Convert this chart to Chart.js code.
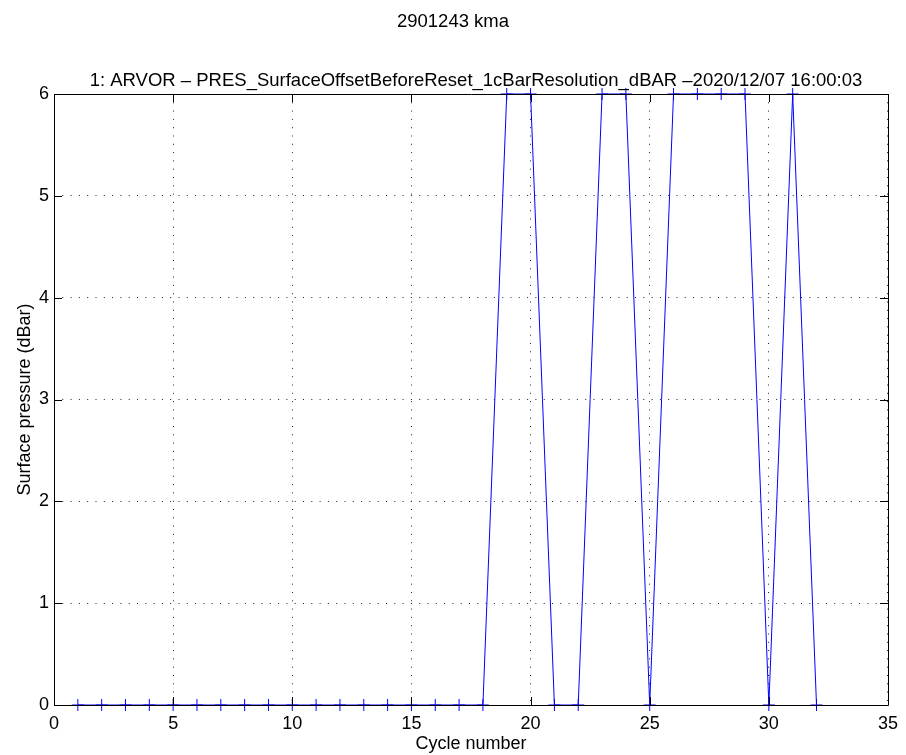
<!DOCTYPE html>
<html><head><meta charset="utf-8">
<script src="https://cdn.jsdelivr.net/npm/chart.js@4"></script>
<style>html,body{margin:0;padding:0;background:#fff;}#wrap{width:906px;height:755px;}</style>
</head><body><div id="wrap"><canvas id="c" width="906" height="755"></canvas></div>
<script>
const cycles = [1,2,3,4,5,6,7,8,9,10,11,12,13,14,15,16,17,18,19,20,21,22,23,24,25,26,27,28,29,30,31,32];
const pressure = [0,0,0,0,0,0,0,0,0,0,0,0,0,0,0,0,0,0,6,6,0,0,6,6,0,6,6,6,6,0,6,0];
const xTicks = [0,5,10,15,20,25,30,35];
const yTicks = [0,1,2,3,4,5,6];
const mainTitle = "2901243 kma";
const subTitle = "1: ARVOR \u2013 PRES_SurfaceOffsetBeforeReset_1cBarResolution_dBAR \u20132020/12/07 16:00:03";
const FONT = "'Liberation Sans', Arial, Helvetica, sans-serif";

const framePlugin = {
  id: 'frame',
  afterDraw(chart) {
    const {ctx, chartArea: a, scales: {x, y}} = chart;
    ctx.save();
    ctx.strokeStyle = '#000';
    ctx.lineWidth = 1;
    ctx.beginPath();
    ctx.rect(Math.round(a.left)+0.5, Math.round(a.top)+0.5, Math.round(a.right-a.left), Math.round(a.bottom-a.top));
    ctx.stroke();
    const L = 8;
    ctx.beginPath();
    xTicks.forEach(v => {
      const px = Math.round(x.getPixelForValue(v)) + 0.5;
      ctx.moveTo(px, a.bottom); ctx.lineTo(px, a.bottom - L);
      ctx.moveTo(px, a.top); ctx.lineTo(px, a.top + L);
    });
    yTicks.forEach(v => {
      const py = Math.round(y.getPixelForValue(v)) + 0.5;
      ctx.moveTo(a.left, py); ctx.lineTo(a.left + L, py);
      ctx.moveTo(a.right, py); ctx.lineTo(a.right - L, py);
    });
    ctx.stroke();
    ctx.fillStyle = '#000';
    ctx.textAlign = 'center';
    ctx.textBaseline = 'alphabetic';
    ctx.font = '18.5px ' + FONT;
    ctx.fillText(mainTitle, 453, 27);
    ctx.fillText(subTitle, 476, 86);
    ctx.restore();
  }
};

new Chart(document.getElementById('c'), {
  type: 'line',
  data: {
    labels: cycles,
    datasets: [{
      data: cycles.map((c, i) => ({x: c, y: pressure[i]})),
      borderColor: '#0000ff',
      backgroundColor: '#0000ff',
      borderWidth: 1,
      pointStyle: 'cross',
      pointRadius: 6,
      pointBorderWidth: 1,
      pointBorderColor: '#0000ff',
      tension: 0,
      fill: false,
      clip: 8
    }]
  },
  options: {
    responsive: false,
    animation: false,
    events: [],
    layout: {padding: {top: 94, right: 16, left: 0, bottom: 0}},
    plugins: {legend: {display: false}, tooltip: {enabled: false}, title: {display: false}},
    scales: {
      x: {
        type: 'linear', min: 0, max: 35,
        afterFit(s) { s.height = 50; },
        afterBuildTicks(s) { s.ticks = xTicks.map(v => ({value: v})); },
        grid: {color: '#222', lineWidth: 1, drawTicks: false, tickLength: 0},
        border: {display: false, dash: [1, 7.3]},
        ticks: {color: '#000', font: {family: FONT, size: 18}, padding: 8, maxRotation: 0},
        title: {display: true, text: 'Cycle number', color: '#000', font: {family: FONT, size: 18}, padding: {top: 0, bottom: 0}}
      },
      y: {
        type: 'linear', min: 0, max: 6,
        afterFit(s) { s.width = 54; },
        afterBuildTicks(s) { s.ticks = yTicks.map(v => ({value: v})); },
        grid: {color: '#222', lineWidth: 1, drawTicks: false, tickLength: 0},
        border: {display: false, dash: [1, 7.3]},
        ticks: {color: '#000', font: {family: FONT, size: 18}, padding: 5},
        title: {display: true, text: 'Surface pressure (dBar)', color: '#000', font: {family: FONT, size: 18}, padding: {top: 14, bottom: 0}}
      }
    }
  },
  plugins: [framePlugin]
});
</script></body></html>
